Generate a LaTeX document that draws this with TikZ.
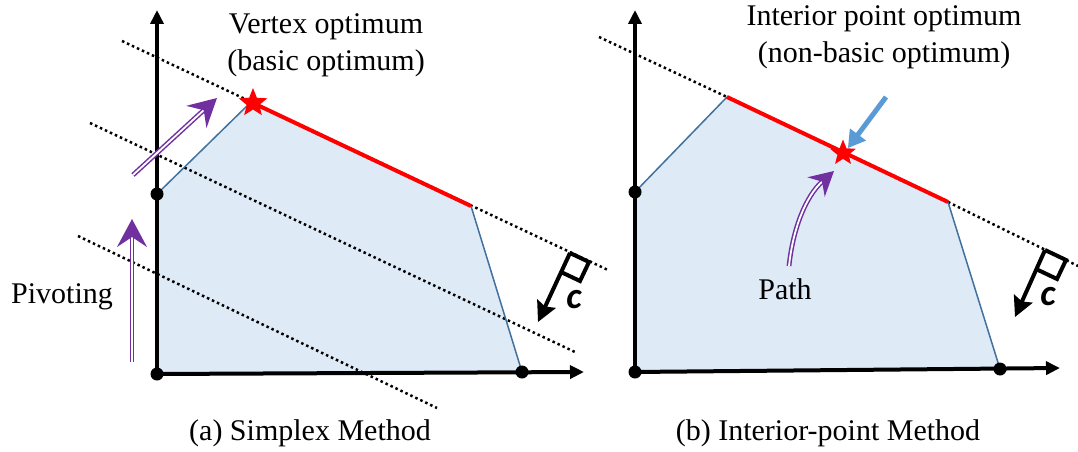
\documentclass[tikz,border=0pt]{standalone}
\usepackage{fontspec}
\setmainfont{Liberation Serif}
\newfontfamily\vecfont{Carlito}
\usetikzlibrary{arrows.meta, shapes.geometric}
\definecolor{feasblue}{RGB}{222,234,246}
\definecolor{edgeblue}{RGB}{65,113,156}
\definecolor{optred}{RGB}{255,0,0}
\definecolor{pathpurple}{RGB}{112,48,160}
\definecolor{hintblue}{RGB}{91,155,213}

\begin{document}
\begin{tikzpicture}[
        x=1pt, y=-1pt,
        every node/.style={font=\fontsize{30}{37}\selectfont},
        axis/.style={line width=4pt, -{Triangle[length=14pt,width=13pt]}},
        region/.style={fill=feasblue, draw=edgeblue, line width=1.5pt, line join=round},
        optedge/.style={draw=optred, line width=4pt},
        level/.style={line width=2.5pt, dash pattern=on 2.5pt off 3pt},
        corner/.style={circle, fill=black, inner sep=0pt, minimum size=13pt},
        optstar/.style={star, star points=5, star point ratio=2.3, fill=optred, inner sep=0pt, minimum size=30pt},
        move/.style={draw=pathpurple, line width=1.5pt, double=white, double distance=1.8pt, -{Stealth[length=28pt,width=30pt,inset=10pt]}},
        gradient/.style={line width=4pt, -{Stealth[length=20pt,width=20pt,inset=3pt]}},
        flag/.style={line width=4pt, line join=miter},
        hint/.style={draw=hintblue, line width=5pt, -{Triangle[length=17pt,width=19pt]}},
        veclabel/.style={font=\vecfont\bfseries\itshape\fontsize{37}{37}\selectfont}
    ]
        \useasboundingbox (0,0) rectangle (1078,452);

        % (a) Simplex method
        \coordinate (aO) at (157,374);
        \coordinate (aP) at (157,194);
        \coordinate (aV) at (251,102);
        \coordinate (aQ) at (471,206);
        \coordinate (aR) at (522,372);
        \fill[region, draw=none] (aO) -- (aP) -- (aV) -- (aQ) -- (aR) -- cycle;
        \coordinate (aL1s) at (122,41);   \coordinate (aL1e) at (608,270);
        \coordinate (aL2s) at (90,123);   \coordinate (aL2e) at (575,352);
        \coordinate (aL3s) at (78,236);   \coordinate (aL3e) at (437,408);
        \draw[level] (aL1s) -- (aL1e);
        \draw[level] (aL2s) -- (aL2e);
        \draw[level] (aL3s) -- (aL3e);
        \draw[region, fill=none] (aP) -- (aV) (aQ) -- (aR) -- (aO);
        \draw[optedge] (aV) -- (aQ);
        \coordinate (aYtip) at (157,10);
        \coordinate (aXtip) at (584,372);
        \draw[axis] (aO) -- (aYtip);
        \draw[axis] ([xshift=-2pt]aO) -- (aXtip);
        \node[corner] (aDotO) at (aO) {};
        \node[corner] (aDotP) at (aP) {};
        \node[corner] (aDotR) at (aR) {};
        \node[optstar] (aStar) at (253,103) {};

        % pivoting moves
        \coordinate (aM1s) at (132,362);  \coordinate (aM1e) at (132,219);
        \coordinate (aM2s) at (133,175);  \coordinate (aM2e) at (217,98);
        \draw[move] (aM1s) -- (aM1e);
        \draw[move] (aM2s) -- (aM2e);

        % objective direction
        \coordinate (aCa) at (570,253);
        \coordinate (aCb) at (589,262);
        \coordinate (aCc) at (580,281);
        \coordinate (aCd) at (561,272);
        \coordinate (aCtip) at (538,322);
        \draw[flag] (aCd) -- (aCc) -- (aCb) -- (aCa);
        \draw[gradient] (aCa) -- (aCtip);
        \node[veclabel] (aCl) at (574,300) {c};

        % labels
        \node[align=center] (aTop) at (326,45) {Vertex optimum\\(basic optimum)};
        \node (aPiv) at (62,297) {Pivoting};
        \node (aCap) at (310,433) {(a) Simplex Method};

        % (b) Interior-point method
        \coordinate (bO) at (635,372);
        \coordinate (bP) at (635,192);
        \coordinate (bV) at (727,97);
        \coordinate (bQ) at (948,202);
        \coordinate (bR) at (1000,369);
        \fill[region, draw=none] (bO) -- (bP) -- (bV) -- (bQ) -- (bR) -- cycle;
        \coordinate (bL1s) at (599,37);   \coordinate (bL1e) at (1078,266);
        \draw[level] (bL1s) -- (bV);
        \draw[level] (bQ) -- (bL1e);
        \draw[region, fill=none] (bP) -- (bV) (bQ) -- (bR) -- (bO);
        \draw[optedge] (bV) -- (bQ);
        \coordinate (bYtip) at (635,10);
        \coordinate (bXtip) at (1060,368);
        \draw[axis] (bO) -- (bYtip);
        \draw[axis] ([xshift=-2pt]bO) -- (bXtip);
        \node[corner] (bDotO) at (bO) {};
        \node[corner] (bDotP) at (bP) {};
        \node[corner] (bDotR) at (bR) {};
        \node[optstar, minimum size=27pt] (bStar) at (843,153) {};

        % central path
        \coordinate (bPs) at (789,266);
        \coordinate (bPe) at (834,171);
        \draw[move, -{Stealth[length=24pt,width=26pt,inset=8pt]}] (bPs) .. controls (793,228) and (806,196) .. (bPe);
        \coordinate (bHs) at (886,97);
        \draw[hint] (bHs) -- (bStar.north east);

        % objective direction
        \coordinate (bCa) at (1045,250);
        \coordinate (bCb) at (1066,260);
        \coordinate (bCc) at (1057,279);
        \coordinate (bCd) at (1036,269);
        \coordinate (bCtip) at (1015,317);
        \draw[flag] (bCd) -- (bCc) -- (bCb) -- (bCa);
        \draw[gradient] (bCa) -- (bCtip);
        \node[veclabel] (bCl) at (1048,297) {c};

        % labels
        \node[align=center] (bTop) at (884,37) {Interior point optimum\\(non-basic optimum)};
        \node (bPath) at (785,289) {Path};
        \node (bCap) at (828,433) {(b) Interior-point Method};

    \end{tikzpicture}
\end{document}
